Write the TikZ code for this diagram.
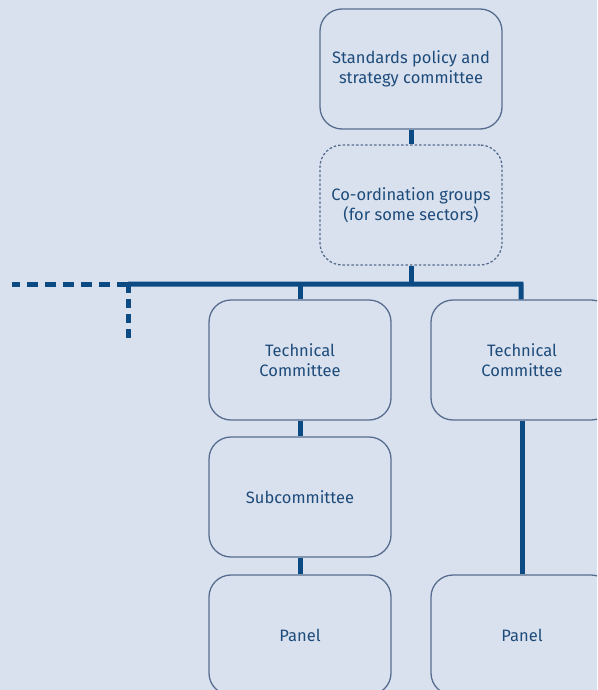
\documentclass[tikz,border=0pt]{standalone}
\usepackage{fontspec}
\setmainfont{Fira Sans}
\definecolor{bgblue}{HTML}{DAE1EE}
\definecolor{linkblue}{HTML}{0B4A82}
\definecolor{boxline}{HTML}{576D8F}
\definecolor{txtblue}{HTML}{1D4B7A}

\begin{document}
\begin{tikzpicture}[x=1pt, y=-1pt,
    box/.style={draw=boxline, line width=1.3pt, rounded corners=22pt,
        minimum width=182pt, minimum height=120pt, align=center,
        text=txtblue, font=\fontsize{16.5}{20}\selectfont},
    link/.style={draw=linkblue, line width=5pt},
    dashlink/.style={link, dash pattern=on 11pt off 7pt}]
  \fill[bgblue] (0,0) rectangle (597,690);
  \useasboundingbox (0,0) rectangle (597,690);
  \clip (0,0) rectangle (597,690);

  \node (SPSC) at (411,69) [box] {Standards policy and\\strategy committee};
  \node (CG) at (411,205) [box, dash pattern=on 2.5pt off 2pt] {Co-ordination groups\\(for some sectors)};
  \node (TC1) at (300,360) [box] {Technical\\Committee};
  \node (TC2) at (522,360) [box] {Technical\\Committee};
  \node (SC) at (300,497) [box] {Subcommittee};
  \node (P1) at (300,635) [box] {Panel};
  \node (P2) at (522,635) [box] {Panel};

  \coordinate (busL) at (128,284);
  \coordinate (busR) at (521,284);
  \coordinate (farL) at (12,284);
  \coordinate (downL) at (128,342);

  \draw[link] (SPSC) -- (CG);
  \draw[link] (CG) -- (CG |- busL);
  \draw[link] (busL) -- (busR) -- (TC2);
  \draw[link] (TC1 |- busL) -- (TC1);
  \draw[link] (TC1) -- (SC);
  \draw[link] (SC) -- (P1);
  \draw[link] (TC2) -- (P2);

  \draw[dashlink] (busL) -- (farL);
  \draw[link, dash pattern=on 9pt off 6pt] (busL) -- (downL);
\end{tikzpicture}
\end{document}
